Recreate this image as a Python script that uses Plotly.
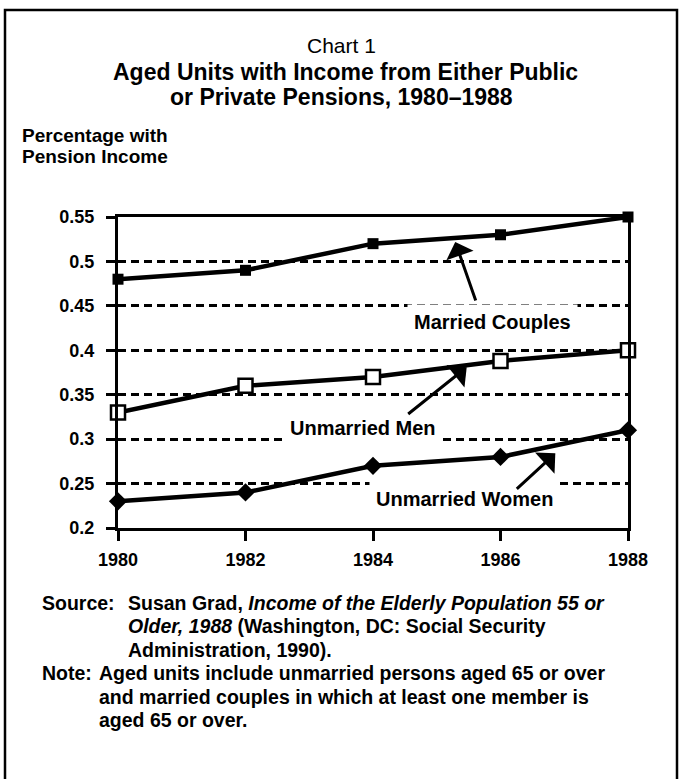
import plotly.graph_objects as go

# ---- data ----
years = [1980, 1982, 1984, 1986, 1988]
married_couples = [0.48, 0.49, 0.52, 0.53, 0.55]
unmarried_men = [0.33, 0.36, 0.37, 0.388, 0.40]
unmarried_women = [0.23, 0.24, 0.27, 0.28, 0.31]
y_ticks = [0.2, 0.25, 0.3, 0.35, 0.4, 0.45, 0.5, 0.55]
y_tick_labels = ["0.2", "0.25", "0.3", "0.35", "0.4", "0.45", "0.5", "0.55"]
x_tick_labels = ["1980", "1982", "1984", "1986", "1988"]

W, H = 681, 779
L, R, T, B = 118, 53, 217, 251
PW, PH = W - L - R, H - T - B
FONT = "Liberation Sans, Arial, sans-serif"


def px(xp):
    return (xp - L) / PW


def py(yp):
    return (H - B - yp) / PH


fig = go.Figure()

fig.add_trace(go.Scatter(
    x=years, y=married_couples, mode="lines+markers", name="Married Couples",
    line=dict(color="black", width=4.5),
    marker=dict(symbol="square", size=11, color="black"),
    cliponaxis=False, showlegend=False))
fig.add_trace(go.Scatter(
    x=years, y=unmarried_men, mode="lines+markers", name="Unmarried Men",
    line=dict(color="black", width=4.5),
    marker=dict(symbol="square", size=14, color="white",
                line=dict(color="black", width=2.5)),
    cliponaxis=False, showlegend=False))
fig.add_trace(go.Scatter(
    x=years, y=unmarried_women, mode="lines+markers", name="Unmarried Women",
    line=dict(color="black", width=4.5),
    marker=dict(symbol="diamond", size=14, color="black"),
    cliponaxis=False, showlegend=False))

ann = []
# titles
ann.append(dict(text="Chart 1", x=px(341), y=py(46), xref="paper", yref="paper",
                showarrow=False, font=dict(size=21, family=FONT, color="black"),
                xanchor="center", yanchor="middle"))
ann.append(dict(text="<b>Aged Units with Income from Either Public</b>", x=px(345), y=py(72),
                xref="paper", yref="paper", showarrow=False,
                font=dict(size=23, family=FONT, color="black"),
                xanchor="center", yanchor="middle"))
ann.append(dict(text="<b>or Private Pensions, 1980\u20131988</b>", x=px(341), y=py(97),
                xref="paper", yref="paper", showarrow=False,
                font=dict(size=23, family=FONT, color="black"),
                xanchor="center", yanchor="middle"))
# y-axis title
for t, yy in [("Percentage with", 135), ("Pension Income", 156)]:
    ann.append(dict(text="<b>" + t + "</b>", x=px(20), y=py(yy), xref="paper", yref="paper",
                    showarrow=False, font=dict(size=19, family=FONT, color="black"),
                    xanchor="left", yanchor="middle"))

# series labels (white boxes interrupt gridlines)
lab_font = dict(size=20, family=FONT, color="black")
ann.append(dict(text="<b>Married Couples</b>", x=1985.88, y=0.4315, showarrow=False,
                font=lab_font, bgcolor="white", borderpad=6))
ann.append(dict(text="<b>Unmarried Men</b>", x=1983.84, y=0.3122, showarrow=False,
                font=lab_font, bgcolor="white", borderpad=6))
ann.append(dict(text="<b>Unmarried Women</b>", x=1985.43, y=0.2323, showarrow=False,
                font=lab_font, bgcolor="white", borderpad=6))
# arrows
arrow = dict(text="", showarrow=True, arrowhead=1, arrowsize=1.6, arrowwidth=3,
             arrowcolor="black", standoff=0)
ann.append(dict(x=1985.29, y=0.522, ax=21, ay=60, **arrow))
ann.append(dict(x=1985.47, y=0.381, ax=-60, ay=48, **arrow))
ann.append(dict(x=1986.86, y=0.284, ax=-40, ay=37, **arrow))

# source / note
src_font = dict(size=19.5, family=FONT, color="black")
lines = [
    (40, 603, "<b>Source:</b>"),
    (126, 603, "<b>Susan Grad, <i>Income of the Elderly Population 55 or</i></b>"),
    (126, 626, "<b><i>Older, 1988</i> (Washington, DC: Social Security</b>"),
    (126, 650, "<b>Administration, 1990).</b>"),
    (40, 673, "<b>Note:</b>"),
    (97, 673, "<b>Aged units include unmarried persons aged 65 or over</b>"),
    (97, 697, "<b>and married couples in which at least one member is</b>"),
    (97, 720, "<b>aged 65 or over.</b>"),
]
for xx, yy, t in lines:
    ann.append(dict(text=t, x=px(xx), y=py(yy), xref="paper", yref="paper",
                    showarrow=False, font=src_font, xanchor="left", yanchor="middle"))

fig.update_layout(
    width=W, height=H, margin=dict(l=L, r=R, t=T, b=B),
    paper_bgcolor="white", plot_bgcolor="white",
    annotations=ann,
    shapes=[dict(type="rect", xref="paper", yref="paper",
                 x0=px(5), x1=px(677), y0=py(820), y1=py(10),
                 line=dict(color="black", width=2.5), layer="below")],
    font=dict(family=FONT, color="black"),
)
fig.update_xaxes(
    range=[1980, 1988], tickvals=years, ticktext=x_tick_labels,
    showline=True, linecolor="black", linewidth=3, mirror=True,
    ticks="outside", ticklen=10, tickwidth=2.5, tickcolor="black",
    showgrid=False, zeroline=False, ticklabelstandoff=3,
    tickfont=dict(size=18, family=FONT, color="black", weight="bold"))
fig.update_yaxes(
    range=[0.2, 0.55], tickvals=y_ticks, ticktext=y_tick_labels,
    showline=True, linecolor="black", linewidth=3, mirror=True,
    ticks="outside", ticklen=9, tickwidth=2.5, tickcolor="black",
    showgrid=True, gridcolor="black", gridwidth=2.5, griddash="8px,5px",
    zeroline=False, ticklabelstandoff=8,
    tickfont=dict(size=18, family=FONT, color="black", weight="bold"))

fig.write_html("out.html")
